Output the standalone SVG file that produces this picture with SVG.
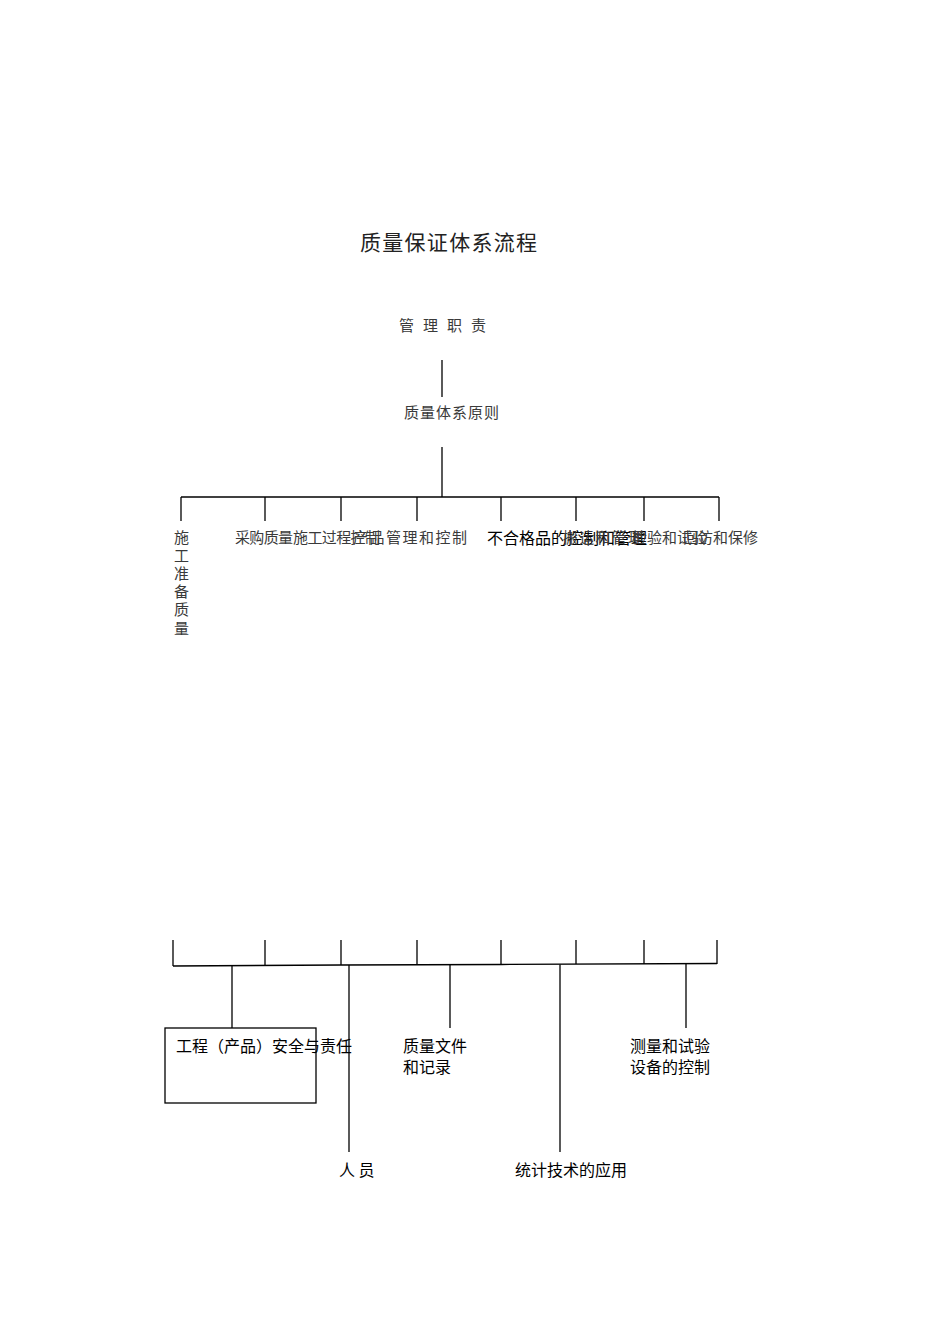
<svg xmlns="http://www.w3.org/2000/svg" width="950" height="1344" viewBox="0 0 950 1344">
<style>
.ln{stroke:#000;stroke-width:1.3;fill:none}
.g{font-family:"Noto Sans CJK SC","Noto Sans CJK JP",sans-serif;fill:#3a3a3a;font-size:15px}
.b{font-family:"Noto Sans CJK SC","Noto Sans CJK JP",sans-serif;fill:#000;font-size:16px}
</style>
<rect width="950" height="1344" fill="#fff"/>
<g id="connectors">
<line class="ln" x1="442" y1="360" x2="442" y2="397"/>
<line class="ln" x1="442" y1="447" x2="442" y2="497"/>
<line class="ln" x1="181" y1="497" x2="719" y2="497"/>
<line class="ln" x1="181" y1="497" x2="181" y2="521"/>
<line class="ln" x1="265" y1="497" x2="265" y2="521"/>
<line class="ln" x1="341" y1="497" x2="341" y2="521"/>
<line class="ln" x1="417" y1="497" x2="417" y2="521"/>
<line class="ln" x1="501" y1="497" x2="501" y2="521"/>
<line class="ln" x1="576" y1="497" x2="576" y2="521"/>
<line class="ln" x1="644" y1="497" x2="644" y2="521"/>
<line class="ln" x1="719" y1="497" x2="719" y2="521"/>
<line class="ln" x1="173" y1="940" x2="173" y2="966"/>
<line class="ln" x1="265" y1="940" x2="265" y2="966"/>
<line class="ln" x1="341" y1="940" x2="341" y2="965"/>
<line class="ln" x1="417" y1="940" x2="417" y2="965"/>
<line class="ln" x1="501" y1="940" x2="501" y2="965"/>
<line class="ln" x1="576" y1="940" x2="576" y2="964"/>
<line class="ln" x1="644" y1="940" x2="644" y2="964"/>
<line class="ln" x1="717" y1="940" x2="717" y2="964"/>
<polyline class="ln" points="173,966 341,965 501,964.5 717,963.5"/>
<line class="ln" x1="232" y1="966" x2="232" y2="1028"/>
<line class="ln" x1="349" y1="965" x2="349" y2="1152"/>
<line class="ln" x1="450" y1="965" x2="450" y2="1028"/>
<line class="ln" x1="560" y1="964.5" x2="560" y2="1152"/>
<line class="ln" x1="686" y1="964" x2="686" y2="1028"/>
</g>
<g id="title"><text x="360" y="250" font-family="Noto Sans CJK SC, sans-serif" font-size="21" fill="#222" textLength="177">质量保证体系流程</text></g>
<g id="n-mgmt"><text class="g" x="399" y="331" font-size="14" textLength="87">管 理 职 责</text></g>
<g id="n-principle"><text class="g" x="404" y="418" textLength="95">质量体系原则</text></g>
<g id="n-prep"><text class="g" x="174" y="543">施</text><text class="g" x="174" y="561">工</text><text class="g" x="174" y="579">准</text><text class="g" x="174" y="597">备</text><text class="g" x="174" y="615">质</text><text class="g" x="174" y="634">量</text></g>
<g id="n-purchase"><text class="g" x="235" y="543" textLength="58">采购质量</text></g>
<g id="n-process"><text class="g" x="293" y="543" textLength="87">施工过程控制</text></g>
<g id="n-product"><text class="g" x="353" y="543" textLength="114">产品管理和控制</text></g>
<g id="n-nonconform"><text class="b" x="487" y="544" textLength="160">不合格品的控制和管理</text></g>
<g id="n-handling"><text class="g" x="563" y="543" textLength="80">搬运和管理</text></g>
<g id="n-inspect"><text class="g" x="632" y="543" textLength="75">检验和试验</text></g>
<g id="n-service"><text class="g" x="683" y="543" textLength="75">回访和保修</text></g>
<g id="n-safety"><rect class="ln" x="165" y="1028" width="151" height="75"/><text class="b" x="176" y="1052" textLength="176">工程（产品）安全与责任</text></g>
<g id="n-people"><text class="b" x="339" y="1176">人 员</text></g>
<g id="n-docs"><text class="b" x="403" y="1052">质量文件</text><text class="b" x="403" y="1073">和记录</text></g>
<g id="n-stat"><text class="b" x="515" y="1176" textLength="112">统计技术的应用</text></g>
<g id="n-measure"><text class="b" x="630" y="1052">测量和试验</text><text class="b" x="630" y="1073">设备的控制</text></g>
</svg>
